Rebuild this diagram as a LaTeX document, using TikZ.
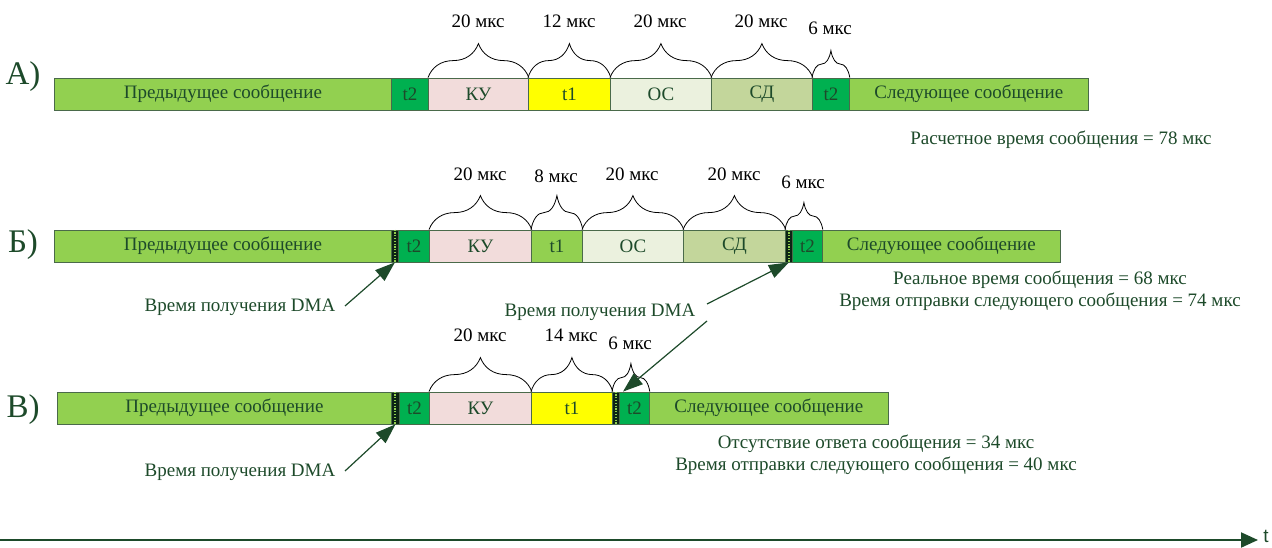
\documentclass[tikz,border=0pt]{standalone}
\usepackage{fontspec}
\setmainfont{Liberation Serif}
\newfontfamily\axisfont{Liberation Sans}
\usetikzlibrary{arrows.meta,decorations.pathreplacing}
\definecolor{txt}{HTML}{1D4A2A}
\definecolor{bord}{HTML}{4A6A4A}
\definecolor{lgreen}{HTML}{92D050}
\definecolor{dgreen}{HTML}{00B050}
\definecolor{pinkc}{HTML}{F2DCDB}
\definecolor{yelc}{HTML}{FFFF00}
\definecolor{osc}{HTML}{EBF1DE}
\definecolor{sdc}{HTML}{C3D69B}
\definecolor{hatchc}{HTML}{0C2414}
\tikzset{
  seg/.style={draw=bord, line width=0.8pt, anchor=west, minimum height=32pt, inner sep=0pt, text=txt, font=\fontsize{19}{22}\selectfont},
  hatchbox/.style={seg, fill=hatchc},
  brc/.style={decorate, decoration={brace, amplitude=#1}, draw=black, line width=0.8pt},
  brlabel/.style={text=black, font=\fontsize{19}{22}\selectfont, inner sep=0pt},
  note/.style={text=txt, font=\fontsize{19}{22}\selectfont, inner sep=0pt, align=center},
  rowlabel/.style={text=txt, font=\fontsize{33}{36}\selectfont, inner sep=0pt},
  arr/.style={draw=txt, line width=1.2pt, -{Triangle[length=20pt,width=14pt]}},
}
\newcommand{\seg}[6]{% name, x0, x1, yc, fill, text
  \node[seg, fill=#5, minimum width=#3-#2] (#1) at (#2,#4) {#6};}
\newcommand{\hatchseg}[4]{% name, x0, x1, yc
  \node[hatchbox, minimum width=#3-#2] (#1) at (#2,#4) {};
  \draw[lgreen, line width=2pt, dash pattern=on 1.2pt off 1.6pt] (#1.north) -- (#1.south);}
\begin{document}
\begin{tikzpicture}[x=1pt, y=-1pt]
\useasboundingbox (0,0) rectangle (1272,548);

% ---------- Row A ----------
\node[rowlabel] (la) at (23,77) {А)};
\seg{a0}{54}{391}{94}{lgreen}{Предыдущее сообщение}
\seg{a1}{391}{428}{94}{dgreen}{t2}
\seg{a2}{428}{528}{94}{pinkc}{КУ}
\seg{a3}{528}{610}{94}{yelc}{t1}
\seg{a4}{610}{711}{94}{osc}{ОС}
\seg{a5}{711}{812}{94}{sdc}{СД}
\seg{a6}{812}{849}{94}{dgreen}{t2}
\seg{a7}{849}{1088}{94}{lgreen}{Следующее сообщение}
\draw[brc=34pt] (a2.north west) -- (a2.north east);
\draw[brc=34pt] (a3.north west) -- (a3.north east);
\draw[brc=34pt] (a4.north west) -- (a4.north east);
\draw[brc=34pt] (a5.north west) -- (a5.north east);
\draw[brc=27pt] (a6.north west) -- (a6.north east);
\node[brlabel] (ba2) at (478,21) {20 мкс};
\node[brlabel] (ba3) at (569,21) {12 мкс};
\node[brlabel] (ba4) at (660,21) {20 мкс};
\node[brlabel] (ba5) at (761,21) {20 мкс};
\node[brlabel] (ba6) at (830,28) {6 мкс};
\node[note] (na) at (1061,140) {Расчетное время сообщения = 78 мкс};

% ---------- Row B ----------
\node[rowlabel] (lb) at (23,245) {Б)};
\seg{b0}{54}{391}{246}{lgreen}{Предыдущее сообщение}
\hatchseg{b1}{391}{398}{246}
\seg{b2}{398}{429}{246}{dgreen}{t2}
\seg{b3}{429}{531}{246}{pinkc}{КУ}
\seg{b4}{531}{582}{246}{lgreen}{t1}
\seg{b5}{582}{683}{246}{osc}{ОС}
\seg{b6}{683}{785}{246}{sdc}{СД}
\hatchseg{b7}{785}{792}{246}
\seg{b8}{792}{822}{246}{dgreen}{t2}
\seg{b9}{822}{1060}{246}{lgreen}{Следующее сообщение}
\draw[brc=34pt] (b3.north west) -- (b3.north east);
\draw[brc=34pt] (b4.north west) -- (b4.north east);
\draw[brc=34pt] (b5.north west) -- (b5.north east);
\draw[brc=34pt] (b6.north west) -- (b6.north east);
\draw[brc=27pt] (b7.north west) -- (b8.north east);
\node[brlabel] (bb3) at (480,174) {20 мкс};
\node[brlabel] (bb4) at (556,176) {8 мкс};
\node[brlabel] (bb5) at (632,174) {20 мкс};
\node[brlabel] (bb6) at (734,174) {20 мкс};
\node[brlabel] (bb8) at (803,182) {6 мкс};
\node[note] (nb1) at (1040,280) {Реальное время сообщения = 68 мкс};
\node[note] (nb2) at (1040,302) {Время отправки следующего сообщения = 74 мкс};
\node[note] (db1) at (240,307) {Время получения DMA};
\node[note] (db2) at (600,312) {Время получения DMA};

% ---------- Row C ----------
\node[rowlabel] (lc) at (23,410) {В)};
\seg{c0}{57}{391}{408}{lgreen}{Предыдущее сообщение}
\hatchseg{c1}{391}{399}{408}
\seg{c2}{399}{429}{408}{dgreen}{t2}
\seg{c3}{429}{531}{408}{pinkc}{КУ}
\seg{c4}{531}{612}{408}{yelc}{t1}
\hatchseg{c5}{612}{619}{408}
\seg{c6}{619}{649}{408}{dgreen}{t2}
\seg{c7}{649}{888}{408}{lgreen}{Следующее сообщение}
\draw[brc=34pt] (c3.north west) -- (c3.north east);
\draw[brc=34pt] (c4.north west) -- (c4.north east);
\draw[brc=28pt] (c5.north west) -- (c6.north east);
\node[brlabel] (bc3) at (480,335) {20 мкс};
\node[brlabel] (bc4) at (571,335) {14 мкс};
\node[brlabel] (bc6) at (630,343) {6 мкс};
\node[note] (nc1) at (876,444) {Отсутствие ответа сообщения = 34 мкс};
\node[note] (nc2) at (876,466) {Время отправки следующего сообщения = 40 мкс};
\node[note] (dc1) at (240,472) {Время получения DMA};

% ---------- arrows ----------
\coordinate (s1) at (345,306);
\coordinate (s2) at (707,304);
\coordinate (s3) at (707,321);
\coordinate (s4) at (345,471);
\draw[arr] (s1) -- (b1.south);
\draw[arr] (s2) -- (b7.south);
\draw[arr] (s3) -- ([xshift=4pt]c6.north west);
\draw[arr] (s4) -- (c1.south);

% ---------- time axis ----------
\coordinate (t0) at (0,540);
\coordinate (t1) at (1258,540);
\node[text=txt, font=\axisfont\fontsize{19}{20}\selectfont, inner sep=0pt] (tl) at (1266,536) {t};
\draw[draw=txt, line width=2pt, -{Triangle[length=17pt,width=15pt]}] (t0) -- (t1);
\end{tikzpicture}
\end{document}
